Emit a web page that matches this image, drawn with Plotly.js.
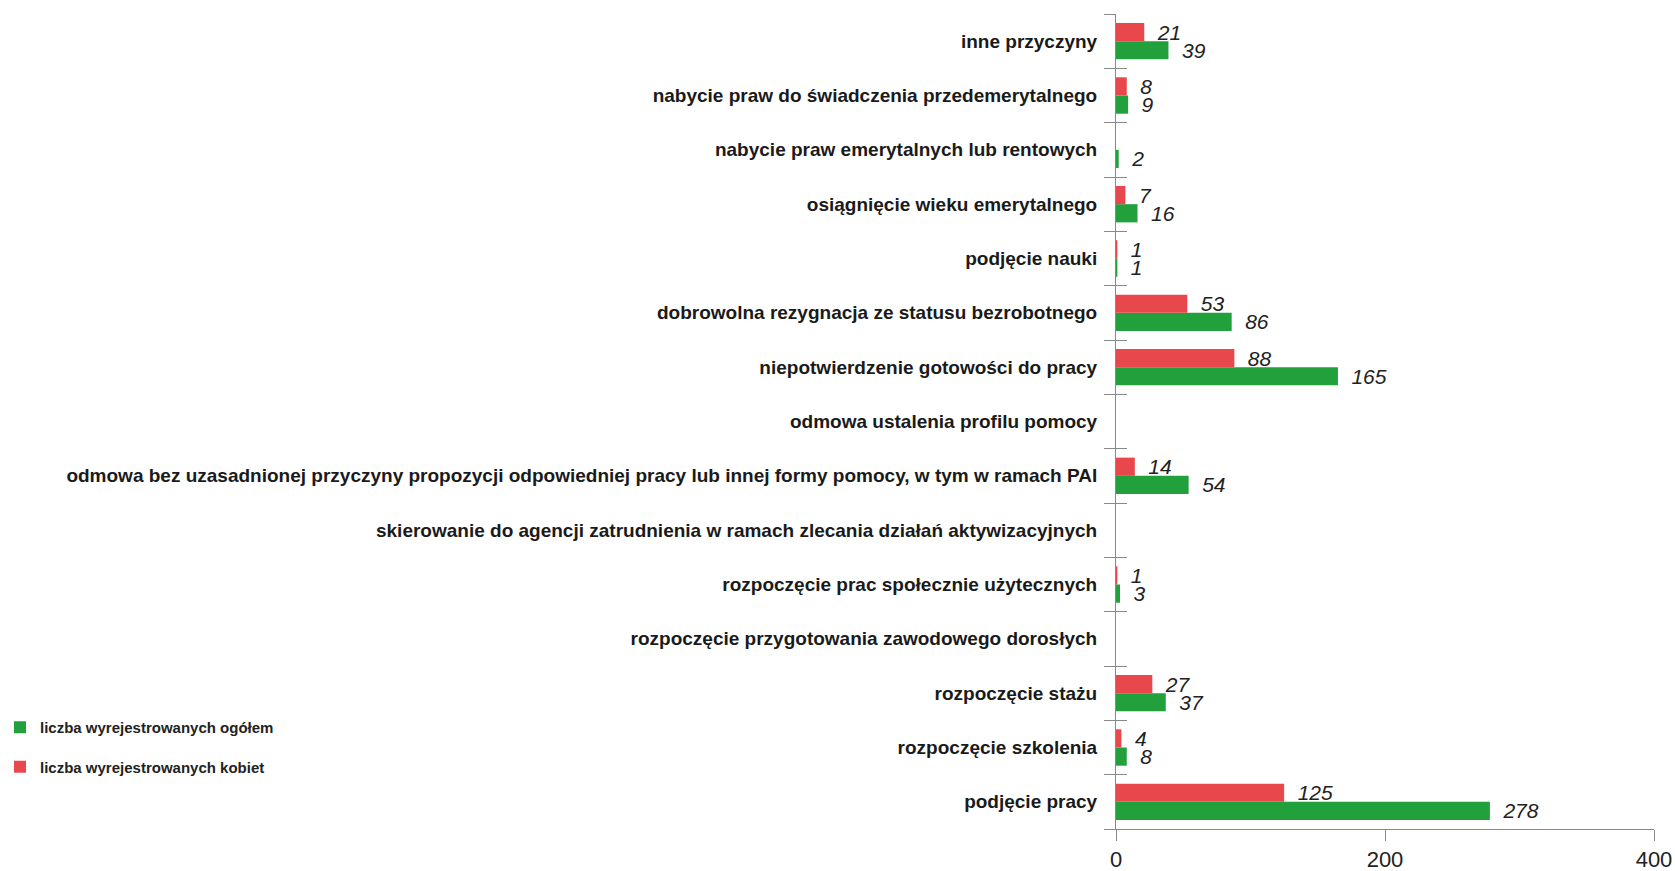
<!DOCTYPE html>
<html>
<head>
<meta charset="utf-8">
<script src="https://cdn.plot.ly/plotly-3.0.1.min.js"></script>
<style>html,body{margin:0;padding:0;background:#fff;}#chart{width:1675px;height:871px;}</style>
</head>
<body>
<div id="chart"></div>
<script>
// Categories listed top to bottom as in the picture
var categories = [
  "inne przyczyny",
  "nabycie praw do świadczenia przedemerytalnego",
  "nabycie praw emerytalnych lub rentowych",
  "osiągnięcie wieku emerytalnego",
  "podjęcie nauki",
  "dobrowolna rezygnacja ze statusu bezrobotnego",
  "niepotwierdzenie gotowości do pracy",
  "odmowa ustalenia profilu pomocy",
  "odmowa bez uzasadnionej przyczyny propozycji odpowiedniej pracy lub innej formy pomocy, w tym w ramach PAI",
  "skierowanie do agencji zatrudnienia w ramach zlecania działań aktywizacyjnych",
  "rozpoczęcie prac społecznie użytecznych",
  "rozpoczęcie przygotowania zawodowego dorosłych",
  "rozpoczęcie stażu",
  "rozpoczęcie szkolenia",
  "podjęcie pracy"
];
var ogolem  = [39, 9, 2, 16, 1, 86, 165, null, 54, null, 3, null, 37, 8, 278];
var kobiety = [21, 8, null, 7, 1, 53, 88, null, 14, null, 1, null, 27, 4, 125];
var seriesNames = ["liczba wyrejestrowanych ogółem", "liczba wyrejestrowanych kobiet"];
var xTicks = [0, 200, 400];

function labels(arr){ return arr.map(function(v){ return v === null ? "" : "\u2002" + String(v); }); }
var catOrder = categories.slice().reverse();

var txtFont = {family: "Liberation Sans, Arial, sans-serif", size: 21, color: "#222"};

var traces = [
  {
    type: "bar", orientation: "h", name: seriesNames[0],
    y: categories, x: ogolem, text: labels(ogolem),
    textposition: "outside", cliponaxis: false, constraintext: "none",
    texttemplate: "<i>%{text}</i>", textfont: txtFont,
    marker: {color: "#22a03c"}, legendgroup: "g1", hoverinfo: "x"
  },
  {
    type: "bar", orientation: "h", name: seriesNames[1],
    y: categories, x: kobiety, text: labels(kobiety),
    textposition: "outside", cliponaxis: false, constraintext: "none",
    texttemplate: "<i>%{text}</i>", textfont: txtFont,
    marker: {color: "#e8474c"}, legendgroup: "g2", hoverinfo: "x"
  },
  {
    type: "scatter", mode: "markers", y: categories, x: categories.map(function(){return null;}),
    yaxis: "y2", showlegend: false, hoverinfo: "skip"
  }
];

var layout = {
  width: 1675, height: 871,
  paper_bgcolor: "#fff", plot_bgcolor: "#fff",
  margin: {l: 1116, r: 21, t: 14, b: 42},
  barmode: "group", bargap: 0.33, bargroupgap: 0,
  font: {family: "Liberation Sans, Arial, sans-serif", color: "#222"},
  showlegend: true,
  legend: {
    xref: "container", yref: "container",
    x: 0, xanchor: "left", y: 0.1837, yanchor: "top",
    traceorder: "grouped", tracegroupgap: 17,
    font: {family: "Liberation Sans, Arial, sans-serif", size: 15, color: "#222", weight: "bold"},
    bgcolor: "rgba(0,0,0,0)"
  },
  xaxis: {
    range: [0, 400], tickvals: xTicks, ticktext: xTicks.map(String),
    ticks: "outside", ticklen: 11, tickcolor: "#888", tickwidth: 1,
    showline: true, linecolor: "#888", linewidth: 1,
    showgrid: false, zeroline: false,
    tickfont: {size: 22, color: "#222"}
  },
  yaxis: {
    type: "category", categoryorder: "array", categoryarray: catOrder,
    range: [-0.5, 14.5],
    tickson: "boundaries", ticks: "outside", ticklen: 11, tickcolor: "#888", tickwidth: 1,
    showline: true, linecolor: "#888", linewidth: 1,
    showgrid: false, zeroline: false,
    ticklabelstandoff: 14,
    tickfont: {size: 19, color: "#1a1a1a", weight: "bold"}
  },
  yaxis2: {
    type: "category", categoryorder: "array", categoryarray: catOrder,
    range: [-0.5, 14.5], overlaying: "y", side: "left",
    tickson: "boundaries", ticks: "inside", ticklen: 11, tickcolor: "#888", tickwidth: 1,
    showticklabels: false, showline: false, showgrid: false, zeroline: false
  }
};

Plotly.newPlot("chart", traces, layout, {displayModeBar: false, staticPlot: true});
</script>
</body>
</html>
